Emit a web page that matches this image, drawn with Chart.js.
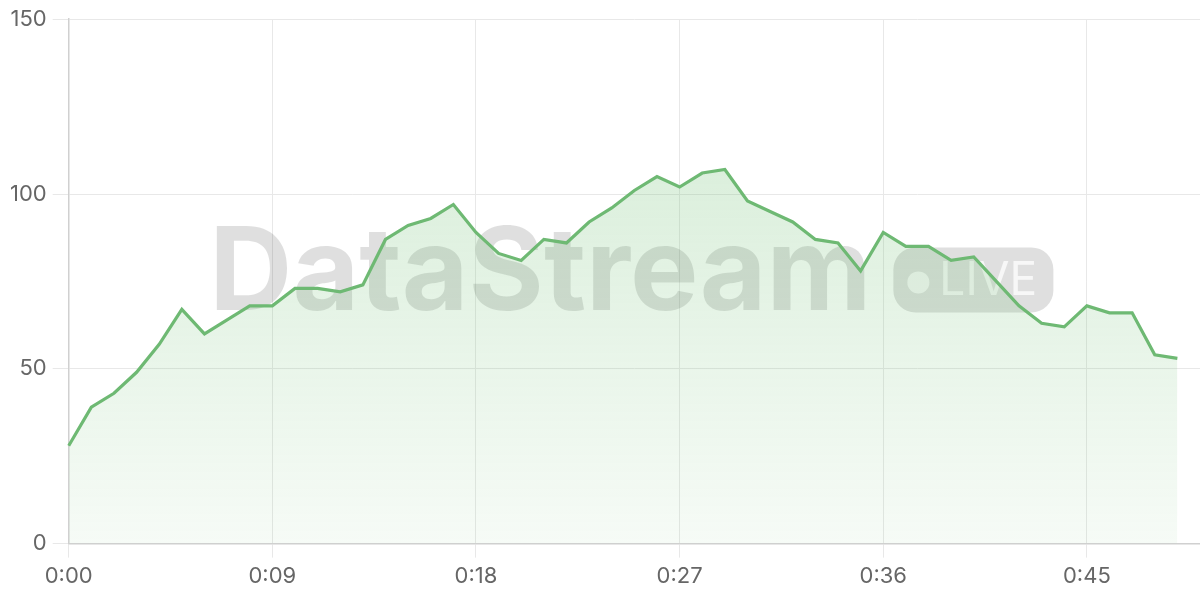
<!DOCTYPE html>
<html>
<head>
<meta charset="utf-8">
<script src="https://cdn.jsdelivr.net/npm/chart.js@4/dist/chart.umd.min.js"></script>
<style>
html,body{margin:0;padding:0;background:#fff;}
#wrap{width:1200px;height:600px;}
</style>
</head>
<body>
<div id="wrap"><canvas id="c" width="1200" height="600"></canvas></div>
<script>
const timeLabels = [
  "0:00","0:01","0:02","0:03","0:04","0:05","0:06","0:07","0:08","0:09",
  "0:10","0:11","0:12","0:13","0:14","0:15","0:16","0:17","0:18","0:19",
  "0:20","0:21","0:22","0:23","0:24","0:25","0:26","0:27","0:28","0:29",
  "0:30","0:31","0:32","0:33","0:34","0:35","0:36","0:37","0:38","0:39",
  "0:40","0:41","0:42","0:43","0:44","0:45","0:46","0:47","0:48","0:49","0:50"
];
const streamValues = [
  28,39,43,49,57,67,60,64,68,68,
  73,73,72,74,87,91,93,97,89,83,
  81,87,86,92,96,101,105,102,106,107,
  98,95,92,87,86,78,89,85,85,81,
  82,75,68,63,62,68,66,66,54,53
];
const yTicks = [0,50,100,150];
const watermarkText = "DataStream";
const badgeText = "LIVE";

const watermark = {
  id: 'watermark',
  beforeDatasetsDraw(chart) {
    const {ctx, chartArea} = chart;
    const cx = (chartArea.left + chartArea.right) / 2 - 3;
    const cy = (chartArea.top + chartArea.bottom) / 2;
    ctx.save();
    ctx.font = 'bold 115px Inter, "Noto Sans", sans-serif';
    const tw = ctx.measureText(watermarkText).width;
    const gap = 22, pillW = 160, pillH = 65;
    const total = tw + gap + pillW;
    const x0 = cx - total / 2;
    ctx.fillStyle = 'rgba(0,0,0,0.125)';
    ctx.textBaseline = 'alphabetic';
    ctx.textAlign = 'left';
    ctx.fillText(watermarkText, x0, cy + 29);
    const px = x0 + tw + gap, py = cy - 34;
    ctx.beginPath();
    ctx.roundRect(px, py, pillW, pillH, 22);
    ctx.fill();
    ctx.fillStyle = 'rgba(255,255,255,0.75)';
    ctx.beginPath();
    ctx.arc(px + 25, cy + 1, 11, 0, Math.PI * 2);
    ctx.fill();
    ctx.font = '46px Inter, "Noto Sans", sans-serif';
    ctx.fillText(badgeText, px + 46, cy + 14);
    ctx.restore();
  }
};

const ctx = document.getElementById('c').getContext('2d');
new Chart(ctx, {
  type: 'line',
  data: {
    labels: timeLabels,
    datasets: [{
      data: streamValues,
      borderColor: 'rgb(110,185,115)',
      borderWidth: 3.2,
      pointRadius: 0,
      tension: 0,
      fill: 'origin',
      backgroundColor: (c) => {
        const area = c.chart.chartArea;
        if (!area) return 'rgba(102,187,106,0.15)';
        const g = c.chart.ctx.createLinearGradient(0, area.top, 0, area.bottom);
        g.addColorStop(0, 'rgba(102,187,106,0.30)');
        g.addColorStop(1, 'rgba(102,187,106,0.06)');
        return g;
      }
    }]
  },
  options: {
    responsive: false,
    animation: false,
    layout: { padding: { top: 10, left: 4, right: 0, bottom: 4 } },
    plugins: { legend: { display: false }, tooltip: { enabled: false } },
    scales: {
      x: {
        offset: false,
        grid: { color: '#e8e8e8', lineWidth: 1, tickLength: 14, drawTicks: true },
        border: { color: '#d0d0d0', width: 1.5 },
        ticks: {
          autoSkip: false,
          maxRotation: 0,
          color: '#666',
          font: { family: 'Inter, "Noto Sans", sans-serif', size: 22 },
          padding: 6,
          callback: function(v, i) { return i % 9 === 0 ? timeLabels[i] : null; }
        }
      },
      y: {
        min: 0, max: 150,
        afterBuildTicks: (s) => { s.ticks = yTicks.map(v => ({value: v})); },
        grid: { color: '#e8e8e8', lineWidth: 1, tickLength: 16 },
        border: { color: '#d0d0d0', width: 1.5 },
        ticks: {
          color: '#666',
          padding: 6,
          font: { family: 'Inter, "Noto Sans", sans-serif', size: 22 }
        }
      }
    }
  },
  plugins: [watermark]
});
</script>
</body>
</html>
